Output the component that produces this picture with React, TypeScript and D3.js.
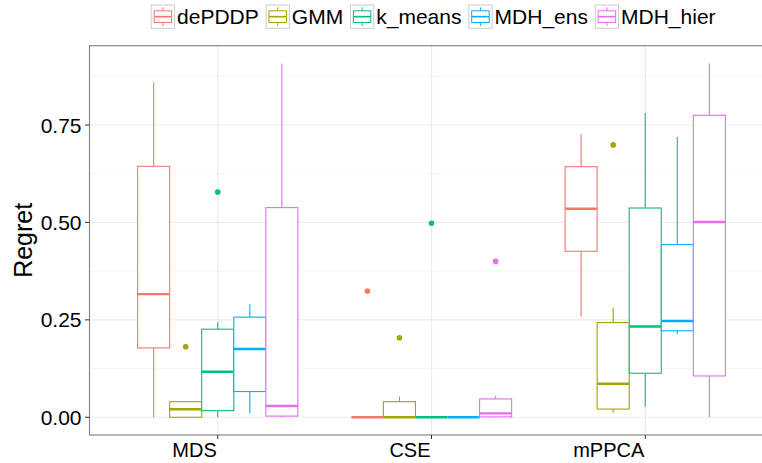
import React from "react";
import * as d3 from "d3";

const categories = ["MDS", "CSE", "mPPCA"];
const methods = ["dePDDP", "GMM", "k_means", "MDH_ens", "MDH_hier"];
const colors = ["#F8766D", "#A3A500", "#00BF7D", "#00B0F6", "#E76BF3"];
const yTicks = [0, 0.25, 0.5, 0.75];
const yMinor = [0.125, 0.375, 0.625, 0.875];

// [category][method]
const whiskerLow = [
  [0, 0, 0, 0.01, 0],
  [0, 0, 0, 0, 0],
  [0.258, 0.012, 0.027, 0.214, 0],
];
const q1 = [
  [0.178, 0, 0.017, 0.066, 0.003],
  [0, 0, 0, 0, 0.001],
  [0.426, 0.021, 0.113, 0.222, 0.106],
];
const median = [
  [0.316, 0.0205, 0.117, 0.175, 0.029],
  [0, 0, 0, 0, 0.01],
  [0.535, 0.086, 0.233, 0.247, 0.501],
];
const q3 = [
  [0.644, 0.04, 0.226, 0.257, 0.538],
  [0, 0.04, 0, 0, 0.047],
  [0.643, 0.243, 0.537, 0.443, 0.775],
];
const whiskerHigh = [
  [0.859, 0.04, 0.244, 0.29, 0.908],
  [0, 0.053, 0, 0, 0.055],
  [0.726, 0.282, 0.781, 0.719, 0.908],
];
const outlierCat = ["MDS", "MDS", "CSE", "CSE", "CSE", "CSE", "mPPCA"];
const outlierMethod = ["GMM", "k_means", "dePDDP", "GMM", "k_means", "MDH_hier", "GMM"];
const outlierValue = [0.181, 0.578, 0.324, 0.204, 0.498, 0.4, 0.699];

const W = 762;
const H = 463;
const FONT = "'Liberation Sans', Arial, Helvetica, sans-serif";
const LEGEND_FS = 21;

function measure(text: string, size: number): number {
  try {
    const c = document.createElement("canvas");
    const ctx = c.getContext("2d");
    if (ctx) {
      ctx.font = `${size}px 'Liberation Sans', Arial, sans-serif`;
      return ctx.measureText(text).width;
    }
  } catch (e) {}
  return text.length * size * 0.55;
}

export default function App() {
  const left = 89.5;
  const right = 773.5;
  const top = 45.7;
  const bottom = 435;

  const x = d3.scalePoint<string>().domain(categories).range([left, right]).padding(0.6);
  const step = x.step();
  const dodge = d3
    .scaleBand<string>()
    .domain(methods)
    .range([-0.375 * step, 0.375 * step])
    .padding(0);
  const bw = dodge.bandwidth();
  const y = d3.scaleLinear().domain([-0.0455, 0.9535]).range([bottom, top]);
  const color = d3.scaleOrdinal<string, string>().domain(methods).range(colors);

  // legend layout
  const keySize = 23.3;
  const textGap = 2.5;
  const itemGap = 7.3;
  const widths = methods.map((m) => measure(m, LEGEND_FS));
  const total =
    widths.reduce((a, b) => a + b, 0) + methods.length * (keySize + textGap) + (methods.length - 1) * itemGap;
  let lx = 433.4 - total / 2;
  const legendItems = methods.map((m, i) => {
    const item = { m, x: lx, w: widths[i] };
    lx += keySize + textGap + widths[i] + itemGap;
    return item;
  });
  const ky = 5;

  return (
    <svg
      width={W}
      height={H}
      style={{ position: "absolute", left: 0, top: 0, background: "#fff" }}
      fontFamily={FONT}
    >
      <defs>
        <clipPath id="panel">
          <rect x={left} y={top} width={right - left} height={bottom - top} />
        </clipPath>
      </defs>
      <rect x={0} y={0} width={W} height={H} fill="#fff" />
      {/* grid */}
      {yMinor.map((v) => (
        <line key={"mn" + v} x1={left} x2={right} y1={y(v)} y2={y(v)} stroke="#F5F5F5" strokeWidth={1} />
      ))}
      {yTicks.map((v) => (
        <line key={"mj" + v} x1={left} x2={right} y1={y(v)} y2={y(v)} stroke="#EBEBEB" strokeWidth={1.2} />
      ))}
      {categories.map((c) => (
        <line key={"vx" + c} x1={x(c)} x2={x(c)} y1={top} y2={bottom} stroke="#EBEBEB" strokeWidth={1.2} />
      ))}
      {/* boxes */}
      <g clipPath="url(#panel)">
        {categories.map((c, ci) =>
          methods.map((m, mi) => {
            const cx = (x(c) as number) + (dodge(m) as number) + bw / 2;
            const x0 = (x(c) as number) + (dodge(m) as number);
            const col = color(m);
            return (
              <g key={c + m}>
                <line x1={cx} x2={cx} y1={y(q3[ci][mi])} y2={y(whiskerHigh[ci][mi])} stroke={col} strokeWidth={1.1} />
                <line x1={cx} x2={cx} y1={y(q1[ci][mi])} y2={y(whiskerLow[ci][mi])} stroke={col} strokeWidth={1.1} />
                <rect
                  x={x0}
                  y={y(q3[ci][mi])}
                  width={bw}
                  height={Math.max(0, y(q1[ci][mi]) - y(q3[ci][mi]))}
                  fill="#fff"
                  stroke={col}
                  strokeWidth={1.1}
                />
                <line x1={x0} x2={x0 + bw} y1={y(median[ci][mi])} y2={y(median[ci][mi])} stroke={col} strokeWidth={2.4} />
              </g>
            );
          })
        )}
        {outlierValue.map((v, i) => {
          const cx = (x(outlierCat[i]) as number) + (dodge(outlierMethod[i]) as number) + bw / 2;
          return <circle key={"o" + i} cx={cx} cy={y(v)} r={2.8} fill={color(outlierMethod[i])} />;
        })}
      </g>
      {/* panel border */}
      <rect x={left} y={top} width={right - left} height={bottom - top} fill="none" stroke="#7F7F7F" strokeWidth={1.1} />
      {/* y axis */}
      {yTicks.map((v) => (
        <g key={"yt" + v}>
          <line x1={left - 4.5} x2={left} y1={y(v)} y2={y(v)} stroke="#333" strokeWidth={1} />
          <text x={81.5} y={y(v)} dy="0.36em" textAnchor="end" fontSize={21} fill="#000">
            {d3.format(".2f")(v)}
          </text>
        </g>
      ))}
      {/* x axis */}
      {categories.map((c) => (
        <g key={"xt" + c}>
          <line x1={x(c)} x2={x(c)} y1={bottom} y2={bottom + 4} stroke="#333" strokeWidth={1} />
          <text x={(x(c) as number) - 1} y={456.5} textAnchor="end" fontSize={20} fill="#000">
            {c}
          </text>
        </g>
      ))}
      <text
        transform={`translate(32,${(top + bottom) / 2}) rotate(-90)`}
        textAnchor="middle"
        fontSize={25}
        fill="#000"
      >
        Regret
      </text>
      {/* legend */}
      {legendItems.map((it) => {
        const col = color(it.m);
        const kx = it.x;
        return (
          <g key={"lg" + it.m}>
            <rect x={kx} y={ky} width={keySize} height={keySize} fill="#fff" stroke="#CCCCCC" strokeWidth={1} />
            <line x1={kx + keySize / 2} x2={kx + keySize / 2} y1={ky + keySize * 0.1} y2={ky + keySize * 0.9} stroke={col} strokeWidth={1} />
            <rect
              x={kx + keySize * 0.125}
              y={ky + keySize * 0.25}
              width={keySize * 0.75}
              height={keySize * 0.5}
              fill="#fff"
              stroke={col}
              strokeWidth={1}
            />
            <line
              x1={kx + keySize * 0.125}
              x2={kx + keySize * 0.875}
              y1={ky + keySize / 2}
              y2={ky + keySize / 2}
              stroke={col}
              strokeWidth={1.6}
            />
            <text x={kx + keySize + textGap} y={ky + keySize / 2} dy="0.36em" fontSize={LEGEND_FS} fill="#000">
              {it.m}
            </text>
          </g>
        );
      })}
    </svg>
  );
}
